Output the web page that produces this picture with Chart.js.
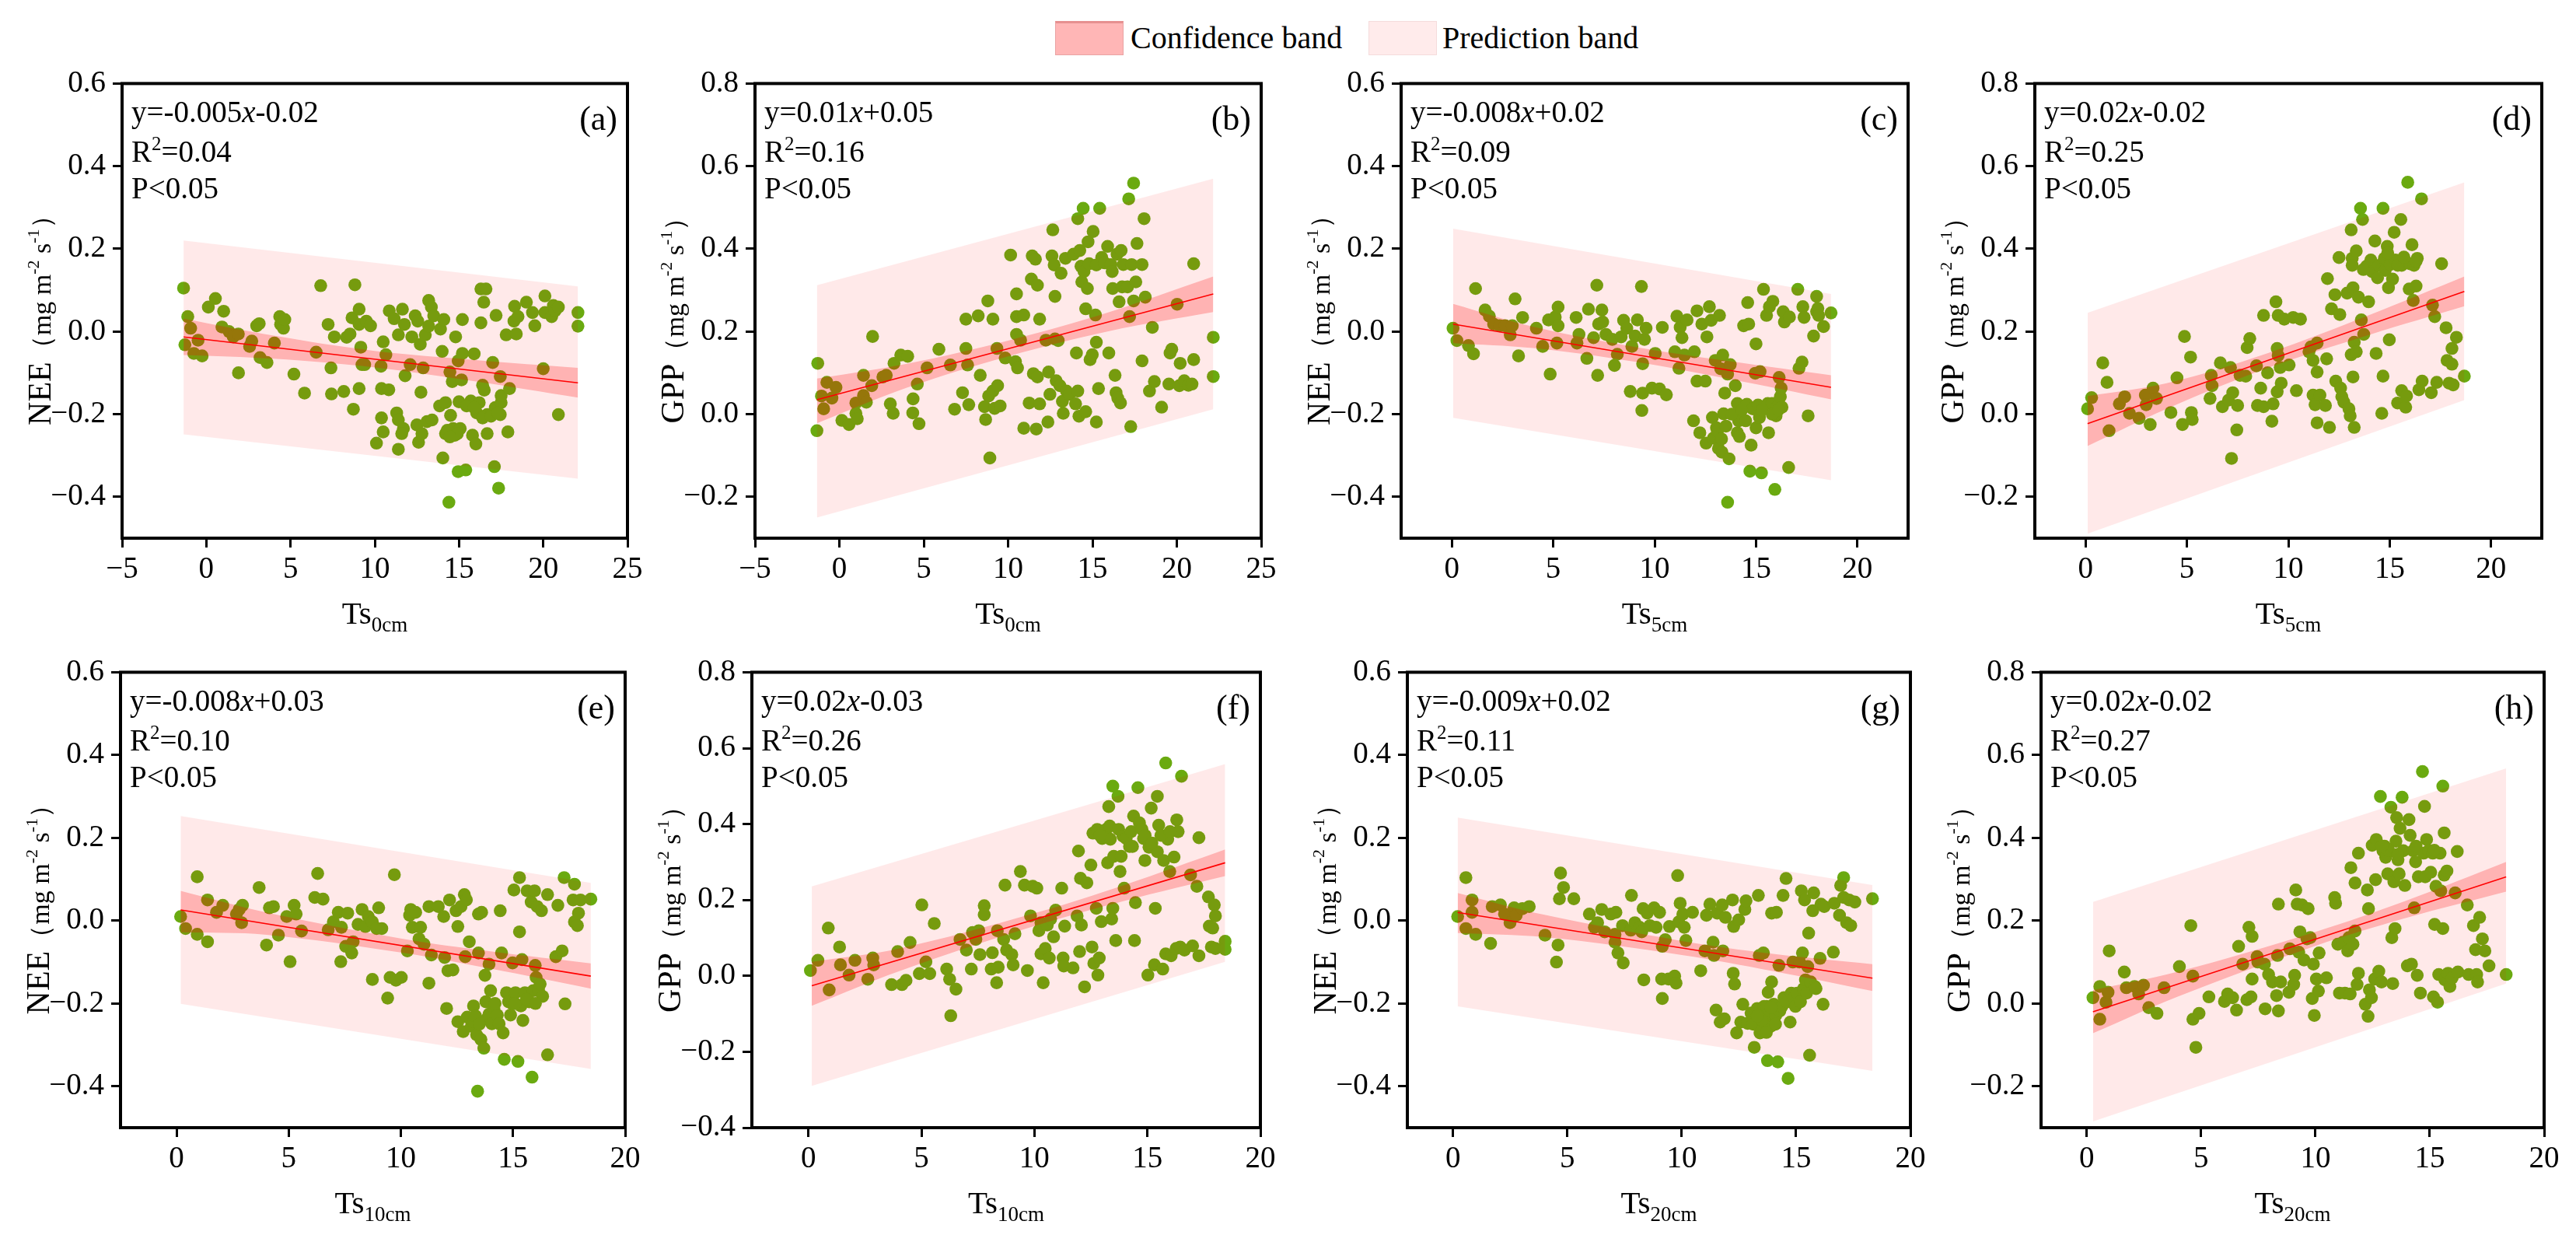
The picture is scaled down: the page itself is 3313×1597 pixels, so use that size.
<html>
<head>
<meta charset="UTF-8">
<title>NEE and GPP against soil temperature</title>
<script src="https://cdn.jsdelivr.net/npm/chart.js@4.4.0/dist/chart.umd.min.js"></script>
<style>
  body { margin:0; background:#fff; }
  #fig { position:relative; width:3313px; height:1597px; overflow:hidden; background:#fff;
         font-family:'Liberation Serif','Times New Roman',serif; }
  .sw { position:absolute; top:27px; width:88px; height:44px; box-sizing:border-box; }
  .lt { position:absolute; top:27px; height:44px; line-height:44px; font-size:40px; color:#000; white-space:nowrap; }
</style>
</head>
<body>
<div id="fig">
  <div class="sw" style="left:1357px;background:#ffb6b6;border:1px solid #e9a3a3;border-top:3px solid #e69090"></div>
  <div class="lt" style="left:1454px">Confidence band</div>
  <div class="sw" style="left:1760px;background:#ffebeb;border:1px solid #f5dcdc"></div>
  <div class="lt" style="left:1855px">Prediction band</div>
</div>

<script>
// ---- data ----
var panelLetters = ['a','b','c','d','e','f','g','h'];
var yNames   = ['NEE','GPP','NEE','GPP','NEE','GPP','NEE','GPP'];
var xDepths  = ['0cm','0cm','5cm','5cm','10cm','10cm','20cm','20cm'];
var eqSlopes = ['-0.005','0.01','-0.008','0.02','-0.008','0.02','-0.009','0.02'];
var eqInters = ['-0.02','+0.05','+0.02','-0.02','+0.03','-0.03','+0.02','-0.02'];
var r2Values = ['0.04','0.16','0.09','0.25','0.10','0.26','0.11','0.27'];
var pText = 'P<0.05';

var xTicks0 = [-5,0,5,10,15,20,25];
var xTicks1 = [0,5,10,15,20];
var yTicksNEE = [-0.4,-0.2,0,0.2,0.4,0.6];
var yTicksGPP = [-0.2,0,0.2,0.4,0.6,0.8];
var yTicksGPPf = [-0.4,-0.2,0,0.2,0.4,0.6,0.8];
var xMins = [-5,-5,-2.5,-2.5,-2.5,-2.5,-2,-2];
var xMaxs = [25,25,22.5,22.5,20,20,20,20];
var yMins = [-0.5,-0.3,-0.5,-0.3,-0.5,-0.4,-0.5,-0.3];
var yMaxs = [0.6,0.8,0.6,0.8,0.6,0.8,0.6,0.8];

var ptsA = [[-1.35,0.105],[-1.1,0.036],[-1.27,-0.032],[-0.93,0.008],[-0.74,-0.053],[-0.49,-0.021],[-0.25,-0.059],[0.12,0.059],[0.54,0.08],[1.03,0.049],[0.93,0.011],[1.35,0.0],[1.6,-0.013],[1.9,-0.006],[1.91,-0.1],[2.57,-0.036],[2.7,-0.023],[2.99,0.014],[3.14,0.019],[3.19,-0.063],[3.6,-0.075],[4.04,-0.028],[4.36,0.036],[4.41,0.017],[4.58,0.008],[4.66,0.029],[5.2,-0.103],[5.83,-0.149],[6.52,-0.05],[6.79,0.111],[7.23,0.017],[7.4,-0.088],[7.43,-0.151],[7.6,-0.013],[8.16,-0.145],[8.33,-0.014],[8.53,-0.006],[8.73,-0.188],[8.82,0.113],[8.65,0.033],[9.07,0.054],[9.07,-0.138],[9.17,-0.038],[9.24,-0.08],[9.4,-0.08],[9.07,0.017],[9.5,0.025],[9.75,0.014],[10.1,-0.27],[10.37,-0.084],[10.4,-0.138],[10.5,-0.025],[10.4,-0.209],[10.5,-0.243],[10.66,-0.056],[10.83,-0.141],[10.86,0.05],[11.15,0.031],[11.4,-0.008],[11.3,-0.197],[11.4,-0.214],[11.4,-0.285],[11.64,0.054],[11.7,-0.235],[11.6,-0.247],[11.76,0.017],[11.8,-0.107],[12.1,-0.08],[12.2,-0.013],[12.4,0.038],[12.5,-0.226],[12.55,0.025],[12.6,-0.268],[12.7,-0.031],[12.74,-0.147],[12.8,-0.247],[12.87,-0.088],[13.0,-0.008],[13.1,-0.218],[13.2,0.013],[13.2,0.075],[13.36,0.059],[13.4,-0.214],[13.5,0.038],[13.85,-0.18],[13.9,0.006],[14.0,-0.048],[14.04,-0.306],[14.1,0.029],[14.2,-0.247],[14.2,-0.172],[14.4,-0.413],[14.46,-0.098],[14.5,-0.203],[14.6,-0.121],[14.65,-0.235],[14.75,-0.251],[14.8,-0.013],[14.95,-0.071],[14.95,-0.339],[15.0,-0.17],[15.07,-0.235],[15.15,-0.117],[15.2,0.029],[15.2,-0.053],[15.4,-0.335],[15.7,-0.168],[15.8,-0.251],[15.9,-0.054],[16.0,-0.272],[16.05,-0.197],[16.2,-0.172],[16.3,0.103],[16.3,0.021],[16.4,-0.13],[16.47,0.071],[16.5,-0.142],[16.6,0.103],[16.67,-0.201],[16.67,-0.247],[17.0,-0.075],[17.1,-0.327],[17.15,-0.184],[17.2,0.039],[17.35,-0.379],[17.45,-0.109],[17.45,-0.201],[17.5,-0.172],[17.5,-0.155],[17.8,-0.008],[17.9,-0.243],[18.0,-0.138],[18.26,0.025],[18.3,0.061],[18.4,-0.006],[18.5,0.036],[19.0,0.071],[19.36,0.046],[19.5,0.014],[20.0,-0.09],[20.1,0.086],[20.1,0.046],[20.5,0.036],[20.6,0.063],[20.7,0.05],[20.9,0.059],[20.9,-0.201],[22.06,0.046],[22.06,0.013],[14.3,-0.239],[14.9,-0.247],[16.4,-0.209],[16.9,-0.205],[17.3,-0.197],[14.46,-0.255],[15.45,-0.18],[15.9,-0.184]];

var ptsB = [[-1.28,0.123],[-1.33,-0.04],[-1.06,0.044],[-0.93,0.013],[-0.74,0.077],[-0.44,0.039],[-0.2,0.065],[0.15,-0.015],[0.57,-0.025],[0.98,0.002],[1.06,-0.011],[0.98,0.027],[1.43,0.094],[1.43,0.045],[1.6,0.029],[1.92,0.069],[1.97,0.188],[2.58,0.09],[2.78,0.094],[3.02,0.025],[3.19,0.002],[3.24,0.123],[3.64,0.143],[4.05,0.14],[4.35,0.003],[4.37,0.037],[4.62,0.073],[4.72,-0.023],[5.2,0.112],[5.9,0.157],[6.58,0.119],[6.83,0.012],[7.3,0.052],[7.5,0.23],[7.5,0.159],[7.6,0.119],[7.67,0.023],[8.23,0.238],[8.35,0.094],[8.6,0.018],[8.67,-0.013],[8.8,0.274],[8.85,0.044],[8.92,-0.106],[9.1,0.23],[9.1,0.056],[9.2,0.014],[9.34,0.159],[9.38,0.069],[9.53,0.02],[9.83,0.136],[10.15,0.385],[10.44,0.127],[10.5,0.291],[10.5,0.193],[10.5,0.236],[10.56,0.112],[10.74,0.179],[10.93,0.24],[10.93,-0.034],[11.25,0.027],[11.38,0.327],[11.43,0.383],[11.5,0.098],[11.62,0.375],[11.74,0.09],[11.74,0.312],[11.67,-0.036],[11.87,0.23],[11.87,0.025],[12.24,0.179],[12.36,-0.019],[12.4,0.102],[12.48,0.048],[12.6,0.383],[12.65,0.446],[12.73,0.361],[12.78,0.285],[12.78,0.182],[12.85,0.081],[12.97,0.178],[13.07,0.069],[13.14,0.341],[13.22,0.031],[13.27,0.002],[13.4,0.377],[13.46,0.056],[13.64,0.048],[13.88,0.387],[14.0,0.025],[14.05,0.148],[14.13,0.473],[14.13,0.056],[14.2,-0.005],[14.25,0.396],[14.32,0.358],[14.37,0.32],[14.45,0.498],[14.5,0.345],[14.6,0.006],[14.6,0.255],[14.7,0.304],[14.74,0.417],[14.8,0.364],[14.86,0.132],[14.99,0.144],[15.04,0.442],[15.18,0.24],[15.23,0.174],[15.23,-0.019],[15.23,0.361],[15.36,0.062],[15.43,0.498],[15.55,0.379],[15.72,0.366],[15.9,0.406],[15.97,0.148],[16.1,0.362],[16.17,0.345],[16.2,0.304],[16.34,0.094],[16.4,0.052],[16.46,0.387],[16.5,0.039],[16.58,0.272],[16.66,0.027],[16.7,0.396],[16.76,0.308],[16.83,0.362],[17.08,0.308],[17.15,0.521],[17.2,0.236],[17.27,-0.03],[17.32,0.362],[17.44,0.559],[17.44,0.274],[17.57,0.32],[17.64,0.413],[17.94,0.129],[17.94,0.362],[18.06,0.473],[18.13,0.283],[18.38,0.056],[18.55,0.21],[18.67,0.079],[19.1,0.017],[19.53,0.073],[19.6,0.148],[19.7,0.157],[20.02,0.266],[20.15,0.069],[20.2,0.123],[20.44,0.081],[20.69,0.07],[20.9,0.073],[21.0,0.132],[21.0,0.364],[22.16,0.186],[22.16,0.091]];

var ptsC = [[0.06,0.008],[0.25,-0.022],[0.82,-0.034],[1.07,-0.054],[1.17,0.104],[1.64,0.052],[1.85,0.037],[2.06,0.018],[2.36,0.014],[2.63,0.014],[2.88,-0.008],[2.98,0.014],[3.12,0.079],[3.29,-0.059],[3.49,0.034],[4.17,0.008],[4.48,-0.036],[4.77,0.028],[4.85,-0.103],[5.1,0.035],[5.18,-0.028],[5.24,0.014],[5.24,0.059],[6.13,0.034],[6.17,-0.028],[6.27,-0.007],[6.66,-0.065],[6.74,0.054],[6.99,-0.015],[7.15,0.112],[7.19,-0.106],[7.24,0.018],[7.4,0.052],[7.44,0.023],[7.6,-0.007],[7.91,-0.019],[8.02,-0.082],[8.16,-0.055],[8.35,-0.013],[8.47,0.027],[8.63,0.008],[8.8,-0.145],[8.88,-0.036],[9.04,-0.011],[9.15,0.028],[9.35,0.109],[9.37,-0.191],[9.41,-0.149],[9.41,-0.078],[9.5,-0.019],[9.58,0.008],[9.87,-0.137],[10.03,-0.053],[10.24,-0.139],[10.38,0.01],[10.58,-0.153],[11.0,-0.049],[11.1,0.037],[11.2,-0.089],[11.26,0.01],[11.35,-0.015],[11.47,-0.057],[11.6,0.028],[11.92,-0.216],[11.96,-0.049],[12.09,0.05],[12.09,-0.12],[12.23,-0.245],[12.33,0.018],[12.5,-0.12],[12.54,-0.27],[12.58,-0.013],[12.7,0.06],[12.79,0.027],[12.85,-0.208],[12.9,-0.258],[12.99,-0.07],[13.05,-0.233],[13.1,-0.241],[13.15,-0.283],[13.2,0.039],[13.26,-0.09],[13.32,-0.292],[13.36,-0.057],[13.4,-0.199],[13.46,-0.149],[13.52,-0.229],[13.6,-0.103],[13.6,-0.413],[13.67,-0.308],[13.73,-0.08],[13.98,-0.131],[14.08,-0.174],[14.08,-0.245],[14.14,-0.216],[14.18,-0.254],[14.39,0.014],[14.49,-0.216],[14.55,-0.176],[14.59,0.07],[14.64,0.018],[14.7,-0.338],[14.76,-0.275],[14.84,-0.187],[14.96,-0.101],[15.0,-0.233],[15.0,-0.03],[15.1,-0.178],[15.17,-0.208],[15.2,-0.097],[15.27,-0.342],[15.37,0.102],[15.52,0.039],[15.58,-0.174],[15.62,-0.245],[15.66,0.06],[15.79,-0.174],[15.83,0.073],[15.93,-0.382],[15.99,-0.204],[16.03,-0.183],[16.14,-0.111],[16.2,-0.158],[16.24,-0.137],[16.28,-0.183],[16.34,0.048],[16.4,0.023],[16.61,-0.329],[16.65,0.035],[17.06,0.102],[17.12,-0.089],[17.27,-0.074],[17.31,0.06],[17.37,0.034],[17.57,-0.204],[17.84,-0.011],[17.99,0.085],[17.99,0.048],[18.05,0.056],[18.09,0.039],[18.33,0.012],[18.7,0.045],[13.3,-0.26],[13.8,-0.2],[14.3,-0.19],[15.3,-0.19],[15.8,-0.2],[16.1,-0.19]];

var ptsD = [[0.1,0.013],[0.3,0.04],[0.85,0.124],[1.06,0.077],[1.16,-0.04],[1.67,0.025],[1.93,0.042],[2.17,0.002],[2.64,-0.01],[2.95,0.046],[2.99,0.023],[3.19,-0.025],[3.33,0.063],[3.5,0.038],[4.21,0.004],[4.51,0.088],[4.78,-0.025],[4.88,0.188],[5.18,0.138],[5.22,0.004],[5.26,-0.013],[6.14,0.038],[6.2,0.094],[6.24,0.069],[6.65,0.124],[6.75,0.018],[7.05,0.034],[7.15,0.113],[7.2,-0.107],[7.26,0.052],[7.46,-0.038],[7.5,0.021],[7.62,0.094],[7.9,0.092],[7.97,0.161],[8.1,0.183],[8.43,0.117],[8.48,0.021],[8.64,0.063],[8.78,0.239],[8.78,0.018],[8.98,0.1],[9.19,-0.017],[9.25,0.025],[9.39,0.272],[9.45,0.054],[9.45,0.159],[9.5,0.142],[9.5,0.239],[9.6,0.113],[9.65,0.075],[9.8,0.23],[10.04,0.119],[10.24,0.234],[10.4,0.057],[10.6,0.23],[11.02,0.151],[11.12,0.163],[11.22,0.13],[11.22,0.046],[11.32,0.023],[11.42,0.172],[11.42,0.102],[11.42,-0.021],[11.56,0.046],[11.83,0.021],[11.89,0.134],[11.93,0.328],[12.03,-0.032],[12.13,0.255],[12.3,0.289],[12.34,0.08],[12.5,0.379],[12.54,0.241],[12.58,0.063],[12.64,0.042],[12.74,0.029],[12.9,0.293],[12.99,0.013],[13.05,-0.004],[13.1,0.446],[13.1,0.144],[13.15,0.377],[13.15,0.36],[13.19,0.09],[13.19,0.306],[13.25,0.174],[13.25,-0.032],[13.35,0.395],[13.35,0.151],[13.46,0.283],[13.56,0.498],[13.6,0.228],[13.66,0.471],[13.72,0.193],[13.86,0.358],[13.96,0.272],[14.07,0.373],[14.13,0.345],[14.27,0.419],[14.33,0.147],[14.47,0.36],[14.61,0.002],[14.67,0.498],[14.67,0.092],[14.74,0.377],[14.78,0.348],[14.88,0.406],[14.94,0.306],[14.98,0.18],[15.02,0.362],[15.14,0.327],[15.22,0.44],[15.28,0.373],[15.39,0.027],[15.55,0.471],[15.59,0.057],[15.59,0.36],[15.79,0.017],[15.83,0.044],[15.89,0.561],[15.96,0.303],[16.0,0.364],[16.1,0.41],[16.16,0.275],[16.2,0.36],[16.3,0.31],[16.36,0.377],[16.44,0.059],[16.57,0.521],[16.6,0.08],[17.05,0.052],[17.11,0.264],[17.22,0.236],[17.32,0.077],[17.56,0.364],[17.78,0.209],[17.83,0.13],[17.93,0.075],[18.07,0.121],[18.07,0.159],[18.13,0.071],[18.29,0.186],[18.68,0.092],[14.4,0.33],[14.9,0.39],[15.4,0.36],[15.7,0.38],[16.3,0.37],[13.7,0.35]];

var ptsE = [[0.18,0.01],[0.4,-0.019],[0.92,0.106],[0.92,-0.033],[1.38,0.05],[1.38,-0.051],[1.78,0.02],[2.06,0.037],[2.67,0.016],[2.79,0.027],[2.94,0.037],[2.9,-0.005],[3.68,0.08],[4.01,-0.059],[4.14,0.031],[4.32,0.034],[4.54,-0.035],[4.91,0.01],[5.06,-0.099],[5.24,0.037],[5.33,0.016],[5.57,-0.025],[6.16,0.056],[6.29,0.114],[6.53,0.052],[6.76,-0.022],[6.99,-0.003],[7.21,0.02],[7.32,-0.099],[7.35,-0.016],[7.54,-0.062],[7.63,0.018],[7.81,-0.078],[7.87,-0.051],[8.09,-0.009],[8.27,0.027],[8.42,-0.014],[8.55,0.01],[8.73,-0.142],[8.73,-0.003],[8.92,-0.019],[9.01,0.031],[9.15,-0.019],[9.41,-0.187],[9.52,-0.137],[9.71,0.111],[9.78,-0.144],[10.02,-0.137],[10.29,-0.073],[10.39,0.013],[10.44,0.027],[10.51,-0.016],[10.66,0.02],[10.81,-0.044],[10.88,-0.016],[11.03,-0.057],[11.25,0.034],[11.25,-0.151],[11.36,-0.083],[11.67,0.034],[11.91,0.01],[11.95,-0.089],[12.04,-0.212],[12.1,-0.121],[12.17,0.05],[12.32,-0.119],[12.46,0.024],[12.54,-0.014],[12.54,-0.244],[12.68,0.034],[12.78,-0.268],[12.83,0.063],[12.87,-0.087],[12.92,0.05],[12.96,-0.233],[13.05,-0.051],[13.14,-0.255],[13.24,-0.206],[13.24,-0.244],[13.33,-0.23],[13.38,-0.276],[13.42,-0.412],[13.46,-0.078],[13.46,0.016],[13.57,-0.287],[13.6,0.02],[13.7,-0.308],[13.75,-0.132],[13.79,-0.196],[13.82,-0.238],[13.93,-0.226],[13.93,-0.105],[14.0,-0.169],[14.06,-0.249],[14.15,-0.212],[14.3,-0.228],[14.38,-0.249],[14.43,0.024],[14.49,-0.078],[14.56,-0.271],[14.61,-0.335],[14.71,-0.174],[14.8,-0.196],[14.89,-0.228],[14.98,-0.201],[14.98,-0.102],[15.04,0.074],[15.11,-0.174],[15.22,-0.34],[15.29,0.104],[15.29,-0.027],[15.35,-0.206],[15.4,-0.094],[15.44,-0.241],[15.53,-0.174],[15.63,0.072],[15.72,-0.196],[15.81,0.045],[15.85,-0.378],[15.9,-0.169],[15.96,0.072],[15.99,-0.108],[16.03,-0.137],[16.08,0.034],[16.14,-0.169],[16.21,-0.153],[16.27,0.024],[16.32,-0.183],[16.54,0.063],[16.54,-0.324],[16.91,-0.087],[17.0,0.037],[17.19,-0.073],[17.28,0.104],[17.32,-0.201],[17.68,0.05],[17.74,0.088],[17.74,-0.003],[17.87,-0.012],[17.92,0.018],[18.01,0.05],[18.47,0.052],[13.5,-0.25],[14.2,-0.2],[15.1,-0.2],[15.6,-0.19],[16.0,-0.2]];

var ptsF = [[0.09,0.014],[0.42,0.041],[0.88,0.126],[0.92,-0.037],[1.38,0.076],[1.42,0.029],[1.8,0.002],[2.06,0.041],[2.63,-0.009],[2.85,0.047],[2.89,0.029],[3.68,-0.023],[3.95,0.064],[4.14,-0.023],[4.32,-0.012],[4.5,0.088],[4.91,0.006],[5.02,0.187],[5.2,0.037],[5.37,0.006],[5.57,0.138],[6.12,0.018],[6.25,-0.009],[6.3,-0.105],[6.53,-0.035],[6.71,0.096],[6.99,0.068],[7.21,0.018],[7.26,0.114],[7.41,0.096],[7.54,0.119],[7.59,0.056],[7.78,0.185],[7.78,0.161],[8.09,0.018],[8.14,0.061],[8.33,-0.018],[8.36,0.119],[8.4,0.023],[8.64,0.096],[8.7,0.239],[8.77,0.068],[9.0,0.056],[9.06,0.029],[9.14,0.111],[9.38,0.275],[9.56,0.239],[9.69,0.014],[9.83,0.158],[9.93,0.236],[10.11,0.231],[10.2,0.119],[10.29,0.058],[10.29,0.14],[10.39,-0.018],[10.48,0.072],[10.57,0.134],[10.66,0.047],[10.72,0.15],[10.85,0.103],[10.94,0.173],[11.21,0.231],[11.27,0.047],[11.3,0.026],[11.34,0.131],[11.71,0.021],[11.89,0.158],[11.95,0.329],[12.0,0.064],[12.04,0.257],[12.08,0.134],[12.22,-0.029],[12.32,0.245],[12.5,0.292],[12.55,0.076],[12.59,0.376],[12.63,0.033],[12.74,0.178],[12.78,0.386],[12.81,0.002],[12.87,0.047],[12.96,0.143],[13.0,0.362],[13.18,0.386],[13.24,0.298],[13.29,0.446],[13.33,0.395],[13.36,0.36],[13.42,0.15],[13.47,0.5],[13.47,0.178],[13.51,0.315],[13.6,0.093],[13.7,0.473],[13.73,0.386],[13.79,0.275],[13.84,0.315],[13.92,0.368],[13.97,0.231],[14.06,0.362],[14.21,0.341],[14.28,0.38],[14.34,0.341],[14.39,0.421],[14.43,0.093],[14.47,0.193],[14.58,0.496],[14.65,0.403],[14.76,0.386],[14.83,0.362],[14.89,0.304],[15.02,0.002],[15.07,0.339],[15.17,0.442],[15.31,0.029],[15.35,0.178],[15.44,0.473],[15.44,0.327],[15.5,0.397],[15.68,0.018],[15.72,0.304],[15.81,0.561],[15.81,0.058],[15.9,0.36],[15.99,0.275],[16.05,0.053],[16.18,0.313],[16.27,0.072],[16.3,0.411],[16.36,0.38],[16.45,0.076],[16.51,0.526],[16.64,0.068],[16.91,0.266],[17.0,0.079],[17.19,0.236],[17.28,0.364],[17.28,0.053],[17.7,0.208],[17.74,0.131],[17.83,0.076],[17.89,0.126],[17.96,0.187],[18.01,0.158],[18.01,0.072],[18.44,0.091],[18.44,0.07],[14.9,0.37],[15.2,0.35],[15.6,0.37],[16.0,0.38],[12.9,0.37]];

var ptsG = [[0.2,0.01],[0.56,0.104],[0.56,-0.019],[0.83,0.05],[0.83,0.02],[0.99,-0.033],[1.64,-0.055],[1.71,0.034],[2.07,0.038],[2.25,0.016],[2.49,-0.005],[2.67,0.031],[2.76,0.013],[3.03,0.029],[3.33,0.034],[4.02,-0.035],[4.52,-0.1],[4.59,-0.059],[4.65,0.053],[4.7,0.115],[4.83,0.08],[5.28,0.053],[5.96,0.016],[6.18,-0.016],[6.32,-0.005],[6.5,0.027],[6.63,-0.027],[6.9,0.016],[7.08,-0.033],[7.08,-0.052],[7.12,0.02],[7.21,-0.078],[7.44,-0.102],[7.41,-0.012],[7.77,-0.023],[7.8,0.061],[7.95,-0.005],[8.16,-0.016],[8.25,-0.027],[8.31,0.029],[8.34,-0.143],[8.49,0.018],[8.61,-0.012],[8.79,0.031],[8.88,-0.016],[9.03,0.02],[9.12,-0.141],[9.15,-0.062],[9.15,-0.188],[9.28,-0.046],[9.42,-0.141],[9.46,-0.014],[9.69,-0.134],[9.75,-0.151],[9.82,0.109],[9.87,-0.003],[9.93,0.042],[10.05,0.016],[10.11,-0.016],[10.18,-0.048],[10.47,0.02],[10.83,-0.121],[11.01,-0.073],[11.08,0.013],[11.23,0.04],[11.37,-0.052],[11.41,-0.084],[11.5,-0.216],[11.55,0.018],[11.68,-0.245],[11.77,0.038],[11.8,-0.073],[11.86,-0.237],[11.91,0.008],[12.22,0.05],[12.25,-0.127],[12.27,-0.014],[12.31,-0.153],[12.4,-0.271],[12.49,0.002],[12.58,-0.245],[12.67,-0.202],[12.76,0.027],[12.81,0.048],[12.88,-0.248],[13.03,-0.223],[13.12,-0.25],[13.17,-0.306],[13.3,-0.212],[13.35,0.061],[13.39,-0.084],[13.42,-0.271],[13.48,-0.229],[13.53,-0.261],[13.57,-0.078],[13.6,-0.207],[13.66,-0.239],[13.71,-0.207],[13.75,-0.338],[13.78,-0.173],[13.84,-0.223],[13.89,-0.255],[13.93,0.018],[13.93,-0.148],[14.02,-0.202],[14.11,-0.229],[14.14,0.02],[14.2,-0.341],[14.25,-0.108],[14.29,-0.218],[14.38,-0.207],[14.43,0.061],[14.47,-0.186],[14.56,0.102],[14.61,-0.196],[14.65,-0.381],[14.74,-0.245],[14.79,-0.175],[14.86,-0.1],[14.92,-0.186],[14.97,-0.207],[15.05,-0.175],[15.15,-0.1],[15.19,-0.196],[15.23,0.072],[15.28,-0.078],[15.33,-0.164],[15.37,0.05],[15.41,-0.143],[15.46,-0.175],[15.51,-0.111],[15.55,-0.03],[15.59,-0.325],[15.64,-0.148],[15.73,0.024],[15.77,0.067],[15.82,-0.159],[15.87,-0.164],[16.05,-0.091],[16.09,0.04],[16.18,-0.202],[16.23,0.034],[16.63,-0.076],[16.67,0.042],[16.9,0.013],[16.95,0.085],[17.08,0.104],[17.08,0.056],[17.21,-0.005],[17.32,0.05],[17.39,-0.012],[17.57,0.045],[18.34,0.053],[13.5,-0.24],[13.9,-0.21],[14.1,-0.25],[13.3,-0.23],[13.7,-0.27]];

var ptsH = [[0.27,0.014],[0.57,0.041],[0.57,-0.038],[0.84,0.003],[0.93,0.027],[0.98,0.127],[1.64,0.076],[1.73,0.038],[2.09,0.041],[2.27,0.023],[2.48,0.044],[2.71,-0.01],[3.07,-0.024],[3.38,0.038],[4.05,0.089],[4.55,0.188],[4.64,0.066],[4.64,-0.038],[4.77,-0.106],[4.91,-0.024],[5.34,0.016],[6.02,0.005],[6.16,0.023],[6.38,0.014],[6.55,-0.016],[6.64,0.138],[6.82,0.095],[7.0,0.009],[7.09,0.184],[7.18,0.016],[7.23,0.162],[7.23,0.059],[7.45,0.113],[7.48,0.1],[7.77,0.095],[7.8,-0.013],[7.95,0.07],[8.12,0.052],[8.3,0.019],[8.34,0.116],[8.38,0.24],[8.38,-0.018],[8.48,0.052],[8.84,0.027],[8.88,0.132],[9.05,0.046],[9.09,0.068],[9.14,0.274],[9.2,0.24],[9.27,0.124],[9.32,0.173],[9.41,0.238],[9.5,0.105],[9.63,0.156],[9.68,0.229],[9.77,0.159],[9.86,0.012],[9.91,0.095],[9.95,-0.029],[10.04,0.059],[10.13,0.03],[10.16,0.122],[10.48,0.062],[10.84,0.256],[10.88,0.242],[10.98,0.143],[11.05,0.025],[11.2,0.148],[11.29,0.025],[11.41,0.127],[11.46,0.159],[11.52,0.023],[11.55,0.328],[11.64,0.143],[11.73,0.175],[11.73,0.291],[11.82,0.046],[11.88,0.363],[11.88,0.073],[12.18,-0.002],[12.27,0.274],[12.3,-0.031],[12.32,0.229],[12.36,0.033],[12.45,0.014],[12.48,0.382],[12.59,0.059],[12.63,0.299],[12.66,0.396],[12.77,0.078],[12.84,0.5],[12.89,0.052],[12.95,0.369],[13.02,0.38],[13.07,0.353],[13.16,0.313],[13.3,0.474],[13.34,0.159],[13.38,0.048],[13.43,0.294],[13.48,0.181],[13.52,0.392],[13.55,0.449],[13.61,0.347],[13.66,0.313],[13.7,0.423],[13.79,0.498],[13.84,0.369],[13.91,0.285],[14.02,0.091],[14.09,0.444],[14.14,0.406],[14.2,0.095],[14.27,0.369],[14.32,0.231],[14.38,0.342],[14.45,0.068],[14.5,0.306],[14.59,0.025],[14.68,0.56],[14.73,0.363],[14.77,0.476],[14.8,0.306],[14.86,0.396],[14.95,0.369],[15.04,0.317],[15.13,0.363],[15.16,0.016],[15.21,0.191],[15.27,0.283],[15.34,0.003],[15.39,0.07],[15.45,0.363],[15.48,0.272],[15.57,0.181],[15.57,0.525],[15.63,0.412],[15.63,0.31],[15.66,0.057],[15.75,0.32],[15.8,0.073],[15.88,0.041],[15.98,0.062],[16.11,0.267],[16.2,0.367],[16.23,0.076],[16.64,0.238],[16.7,0.07],[16.91,0.188],[17.0,0.13],[17.05,0.07],[17.09,0.052],[17.18,0.208],[17.3,0.156],[17.41,0.127],[17.59,0.091],[18.34,0.07],[13.2,0.37],[13.6,0.36],[14.4,0.38],[15.2,0.37],[12.9,0.38]];

// regression line end points
var lineX = [[-1.35,22.06],[-1.33,22.16],[0.06,18.7],[0.1,18.68],[0.18,18.47],[0.15,18.44],[0.2,18.34],[0.27,18.34]];
var lineY = [[-0.013,-0.124],[0.035,0.291],[0.018,-0.135],[-0.023,0.297],[0.026,-0.134],[-0.026,0.298],[0.02,-0.139],[-0.02,0.306]];

// confidence band edges
var cbX  = [[-1.35,4,10,16,22.06],[-1.33,4,10,16,22.16],[0.06,4,9,14,18.7],[0.1,4,9,14,18.68],[0.18,4,10,14,18.47],[0.15,4,10,14,18.44],[0.2,4,10,14,18.34],[0.27,4,10,14,18.34]];
var cbUp = [[0.031,-0.010,-0.047,-0.069,-0.088],[0.086,0.122,0.178,0.247,0.333],[0.067,0.012,-0.037,-0.074,-0.106],[0.044,0.075,0.148,0.240,0.333],[0.072,0.020,-0.043,-0.074,-0.103],[0.037,0.072,0.165,0.240,0.333],[0.067,0.014,-0.049,-0.080,-0.105],[0.032,0.077,0.173,0.249,0.342]];
var cbLo = [[-0.057,-0.066,-0.087,-0.121,-0.160],[-0.022,0.064,0.140,0.201,0.247],[-0.028,-0.040,-0.073,-0.118,-0.164],[-0.077,0.013,0.112,0.192,0.261],[-0.028,-0.034,-0.077,-0.116,-0.164],[-0.079,0.012,0.131,0.198,0.263],[-0.030,-0.040,-0.083,-0.122,-0.170],[-0.072,0.017,0.139,0.207,0.270]];

// prediction band edges
var pbUp = [[0.22,0.109],[0.312,0.57],[0.249,0.091],[0.245,0.561],[0.253,0.091],[0.236,0.558],[0.249,0.086],[0.245,0.568]];
var pbLo = [[-0.249,-0.356],[-0.25,0.012],[-0.209,-0.36],[-0.289,0.034],[-0.201,-0.358],[-0.29,0.037],[-0.207,-0.363],[-0.285,0.048]];

var allPts = [ptsA, ptsB, ptsC, ptsD, ptsE, ptsF, ptsG, ptsH];
var allXTicks = [xTicks0, xTicks0, xTicks1, xTicks1, xTicks1, xTicks1, xTicks1, xTicks1];
var allYTicks = [yTicksNEE, yTicksGPP, yTicksNEE, yTicksGPP, yTicksNEE, yTicksGPPf, yTicksNEE, yTicksGPP];

// ---- layout: plot frame [left, right, top, bottom] in page pixels ----
var frames = [[157,807,105,692],[971,1622,105,692],[1802,2454,105,692],[2617,3269,105,692],
              [155,804,862,1450],[967,1621,862,1450],[1810,2457,862,1450],[2625,3272,862,1450]];
var AXIS_W = 150, AXIS_H = 150, PAD_T = 30, PAD_R = 30;
var FAMILY = "'Liberation Serif','Times New Roman',serif";
var DOT = 'rgb(106,170,16)';
var PB_FILL = 'rgba(255,0,0,0.085)';
var CB_FILL = 'rgba(255,0,0,0.235)';

Chart.defaults.font.family = FAMILY;
Chart.defaults.color = '#000';

function fmtNum(v, d) {
  var s = d == null ? String(Math.abs(v)) : Math.abs(v).toFixed(d);
  return (v < -1e-9 ? '\u2212' : '') + s;
}

function fontOf(r) { return (r.it ? 'italic ' : '') + r.s + 'px ' + FAMILY; }
function drawRuns(ctx, runs, x, y, align) {
  var w = 0;
  runs.forEach(function (r) { ctx.font = fontOf(r); w += ctx.measureText(r.t).width; });
  var cx = align === 'center' ? x - w / 2 : (align === 'right' ? x - w : x);
  ctx.textAlign = 'left';
  ctx.textBaseline = 'alphabetic';
  runs.forEach(function (r) {
    ctx.font = fontOf(r);
    ctx.fillText(r.t, cx, y + (r.dy || 0));
    cx += ctx.measureText(r.t).width;
  });
}

function panelDecor(i) {
  return {
    id: 'decor' + i,
    afterDraw: function (chart) {
      var ctx = chart.ctx, a = chart.chartArea;
      ctx.save();
      ctx.fillStyle = '#000';
      ctx.strokeStyle = '#000';
      ctx.lineWidth = 4;
      ctx.strokeRect(a.left, a.top, a.right - a.left, a.bottom - a.top);

      // regression statistics
      var tx = a.left + 12;
      drawRuns(ctx, [{t: 'y=' + eqSlopes[i], s: 39}, {t: 'x', s: 39, it: true}, {t: eqInters[i], s: 39}], tx, a.top + 50, 'left');
      drawRuns(ctx, [{t: 'R', s: 39}, {t: '2', s: 25, dy: -15}, {t: '=' + r2Values[i], s: 39}], tx, a.top + 101, 'left');
      drawRuns(ctx, [{t: pText, s: 39}], tx, a.top + 148, 'left');
      drawRuns(ctx, [{t: '(' + panelLetters[i] + ')', s: 44}], a.right - 13, a.top + 60, 'right');

      // x title with subscript
      drawRuns(ctx, [{t: 'Ts', s: 41}, {t: xDepths[i], s: 27, dy: 10}], (a.left + a.right) / 2, a.bottom + 110, 'center');

      // y title, rotated
      ctx.translate(a.left - 92, (a.top + a.bottom) / 2 + 4);
      ctx.rotate(-Math.PI / 2);
      drawRuns(ctx, [{t: yNames[i], s: 42}, {t: '\uFF08mg m', s: 34}, {t: '-2', s: 22, dy: -15},
                     {t: ' s', s: 34}, {t: '-1', s: 22, dy: -15}, {t: '\uFF09', s: 34}], 0, 0, 'center');
      ctx.restore();
    }
  };
}

function xy(xs, ys) { return xs.map(function (x, k) { return {x: x, y: ys[k]}; }); }

function makePanel(i) {
  var f = frames[i];
  var w = f[1] - f[0] + AXIS_W + PAD_R, h = f[3] - f[2] + PAD_T + AXIS_H;
  var cv = document.createElement('canvas');
  cv.width = w; cv.height = h;
  cv.style.cssText = 'position:absolute;left:' + (f[0] - AXIS_W) + 'px;top:' + (f[2] - PAD_T) + 'px;width:' + w + 'px;height:' + h + 'px';
  document.getElementById('fig').appendChild(cv);

  var band = {type: 'line', borderWidth: 0, borderColor: 'transparent', pointRadius: 0, tension: 0};
  new Chart(cv, {
    type: 'scatter',
    data: {
      datasets: [
        {type: 'line', data: xy(lineX[i], lineY[i]), borderColor: '#ff0000', borderWidth: 1.6, pointRadius: 0, fill: false, order: 1},
        Object.assign({}, band, {data: xy(cbX[i], cbUp[i]), fill: '+1', backgroundColor: CB_FILL, tension: 0.35, order: 2}),
        Object.assign({}, band, {data: xy(cbX[i], cbLo[i]), fill: false, tension: 0.35, order: 2}),
        Object.assign({}, band, {data: xy(lineX[i], pbUp[i]), fill: '+1', backgroundColor: PB_FILL, order: 3}),
        Object.assign({}, band, {data: xy(lineX[i], pbLo[i]), fill: false, order: 3}),
        {data: allPts[i].map(function (p) { return {x: p[0], y: p[1]}; }), pointRadius: 8.3,
         backgroundColor: DOT, borderWidth: 0, order: 4}
      ]
    },
    options: {
      responsive: false, animation: false, devicePixelRatio: 1, events: [],
      layout: {padding: {left: 0, top: PAD_T, right: PAD_R, bottom: 0}},
      plugins: {legend: {display: false}, tooltip: {enabled: false}},
      scales: {
        x: {
          type: 'linear', min: xMins[i], max: xMaxs[i],
          afterBuildTicks: function (s) { s.ticks = allXTicks[i].map(function (v) { return {value: v}; }); },
          afterFit: function (s) { s.height = AXIS_H; },
          ticks: {callback: function (v) { return fmtNum(v); }, font: {size: 39}, color: '#000', padding: 5, autoSkip: false, maxRotation: 0},
          grid: {display: true, drawOnChartArea: false, drawTicks: true, tickLength: 12, color: '#000', lineWidth: 3},
          border: {display: false}
        },
        y: {
          type: 'linear', min: yMins[i], max: yMaxs[i],
          afterBuildTicks: function (s) { s.ticks = allYTicks[i].map(function (v) { return {value: v}; }); },
          afterFit: function (s) { s.width = AXIS_W; },
          ticks: {callback: function (v) { return fmtNum(v, 1); }, font: {size: 39}, color: '#000', padding: 9, autoSkip: false},
          grid: {display: true, drawOnChartArea: false, drawTicks: true, tickLength: 12, color: '#000', lineWidth: 3},
          border: {display: false}
        }
      }
    },
    plugins: [panelDecor(i)]
  });
}

for (var i = 0; i < 8; i++) makePanel(i);
</script>
</body>
</html>
